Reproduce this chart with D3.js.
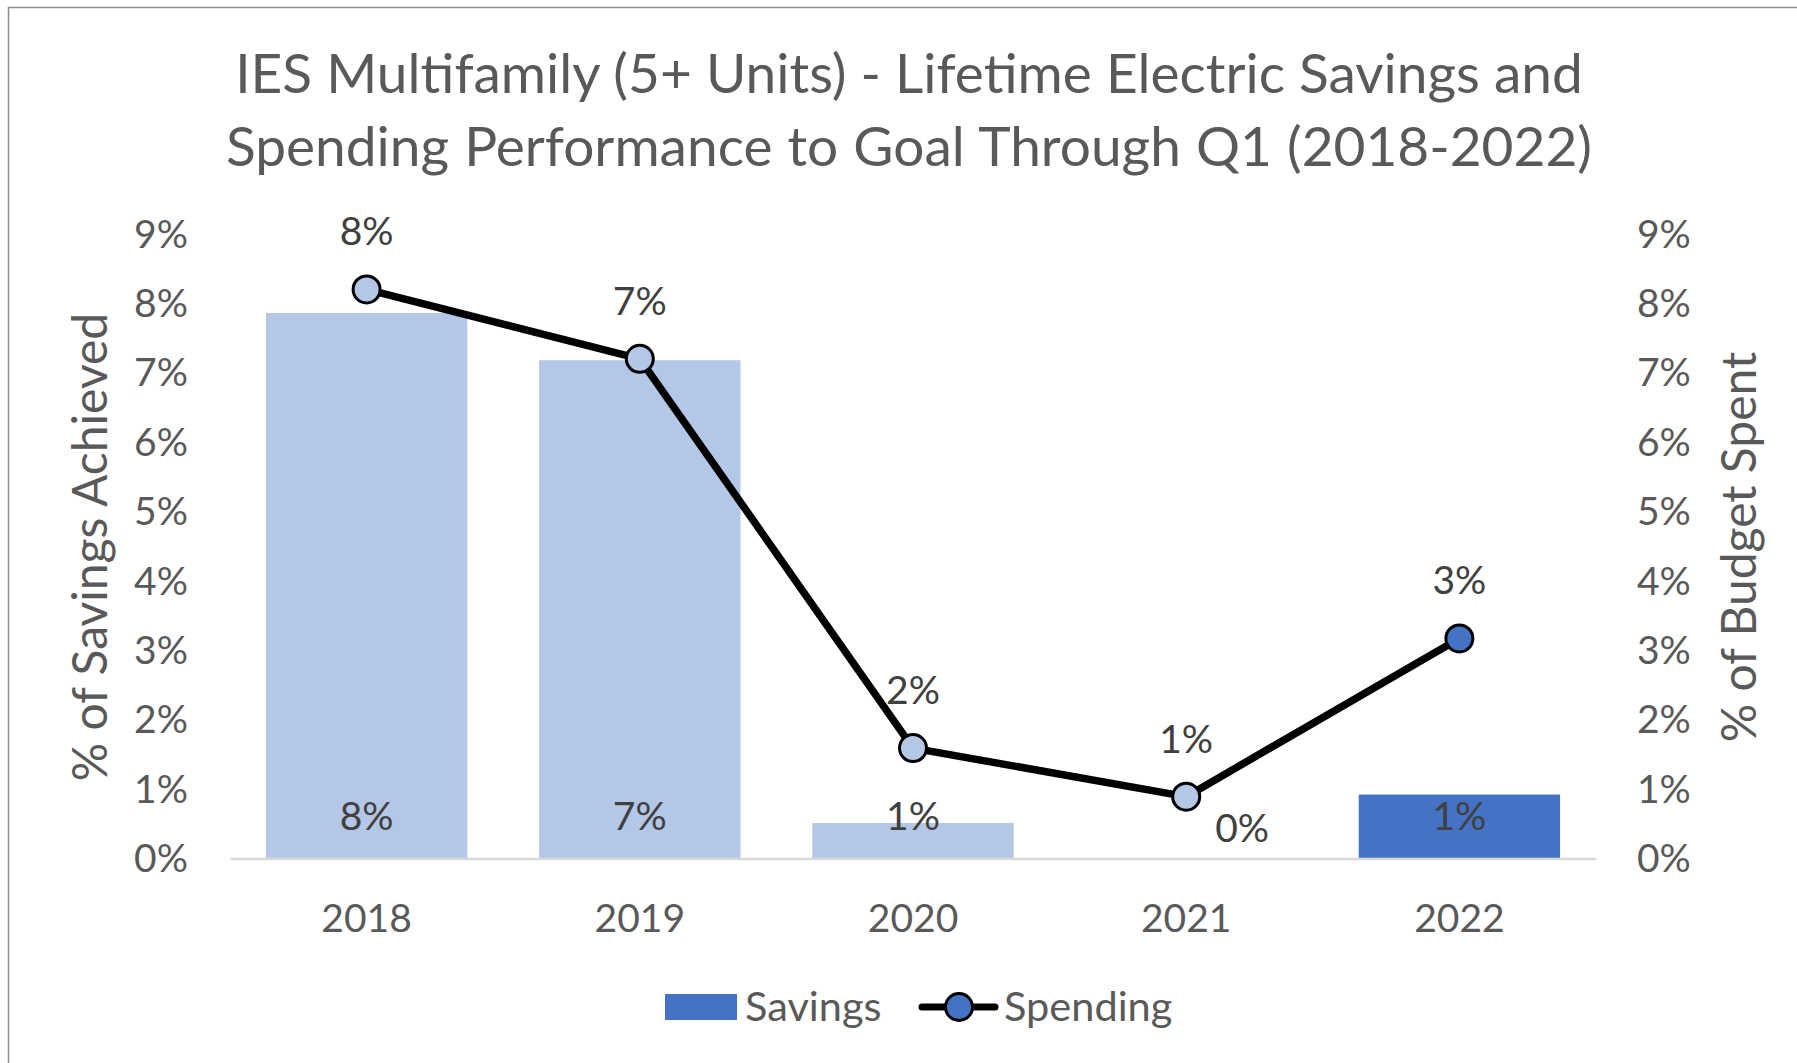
<!DOCTYPE html>
<html>
<head>
<meta charset="utf-8">
<script src="https://cdn.jsdelivr.net/npm/d3@7"></script>
<style>
  body { margin: 0; background: #fff; }
  text { font-family: Lato, "Open Sans", sans-serif; }
</style>
</head>
<body>
<div id="chart"></div>
<script>
// values
const years = ['2018', '2019', '2020', '2021', '2022'];
const savings = [0.0786, 0.0718, 0.0051, 0, 0.0092];
const spending = [0.0820, 0.0720, 0.0159, 0.0089, 0.0317];
const yTicks = [0, 0.01, 0.02, 0.03, 0.04, 0.05, 0.06, 0.07, 0.08, 0.09];
const titleLines = ['IES Multifamily (5+ Units) - Lifetime Electric Savings and',
                    'Spending Performance to Goal Through Q1 (2018-2022)'];

const lightBlue = '#B4C7E7', darkBlue = '#4472C4';
const pointColor = (d, i) => i === years.length - 1 ? darkBlue : lightBlue;

const width = 1797, height = 1063;
const plot = { left: 230, right: 1596, top: 233.9, bottom: 858.4 };

const svg = d3.select('#chart')
              .append('svg')
              .attr('width', width)
              .attr('height', height);

// chart frame (only top/left edges show in the crop)
svg.append('path')
   .attr('d', `M8.5,${height}V7.5H${width}`)
   .attr('fill', 'none')
   .attr('stroke', '#8f8f8f')
   .attr('stroke-width', 1.5);

const x = d3.scaleBand()
            .domain(years)
            .range([plot.left, plot.right])
            .paddingInner(0.263)
            .paddingOuter(0.1315);

const y = d3.scaleLinear().domain([0, 0.09]).range([plot.bottom, plot.top]);
const y2 = d3.scaleLinear().domain([0, 0.09]).range([plot.bottom, plot.top]);
const pct = d3.format('.0%');

// title
svg.append('text')
   .attr('x', 909)
   .attr('y', 93)
   .attr('text-anchor', 'middle')
   .attr('fill', '#595959')
   .style('font-size', '55px')
   .selectAll('tspan')
   .data(titleLines)
   .enter()
   .append('tspan')
   .attr('x', 909)
   .attr('dy', (d, i) => i === 0 ? 0 : 73)
   .attr('word-spacing', (d, i) => i === 0 ? 0 : 1)
   .text(d => d);

// left axis
const yAxis = svg.append('g')
   .attr('transform', 'translate(188,0)')
   .call(d3.axisLeft(y).tickValues(yTicks).tickFormat(pct).tickSize(0).tickPadding(0));
yAxis.select('.domain').remove();
yAxis.selectAll('text')
     .attr('fill', '#595959')
     .style('font-size', '39px')
     .attr('dy', '0.34em');

// right axis
const yAxis2 = svg.append('g')
   .attr('transform', 'translate(1637,0)')
   .call(d3.axisRight(y2).tickValues(yTicks).tickFormat(pct).tickSize(0).tickPadding(0));
yAxis2.select('.domain').remove();
yAxis2.selectAll('text')
      .attr('fill', '#595959')
      .style('font-size', '39px')
      .attr('dy', '0.34em');

// axis titles
svg.append('text')
   .attr('transform', 'translate(107,547) rotate(-90)')
   .attr('text-anchor', 'middle')
   .attr('fill', '#595959')
   .style('font-size', '48px')
   .text('% of Savings Achieved');

svg.append('text')
   .attr('transform', 'translate(1756,547) rotate(-90)')
   .attr('text-anchor', 'middle')
   .attr('fill', '#595959')
   .style('font-size', '48px')
   .text('% of Budget Spent');

// bars
svg.selectAll('rect.bar')
   .data(savings)
   .enter()
   .append('rect')
   .attr('class', 'bar')
   .attr('x', (d, i) => x(years[i]))
   .attr('y', d => y(d))
   .attr('width', x.bandwidth())
   .attr('height', d => y(0) - y(d))
   .attr('fill', pointColor);

// bottom axis
const xAxis = svg.append('g')
   .attr('transform', `translate(0,${plot.bottom})`)
   .call(d3.axisBottom(x).tickSize(0).tickSizeOuter(0));
xAxis.select('.domain')
     .attr('stroke', '#D9D9D9')
     .attr('stroke-width', 2.5);
xAxis.selectAll('text')
     .attr('y', 74)
     .attr('dy', 0)
     .attr('fill', '#595959')
     .style('font-size', '39px');

// savings labels (inside base; the zero one sits off to the right)
svg.selectAll('text.savLabel')
   .data(savings)
   .enter()
   .append('text')
   .attr('class', 'savLabel')
   .attr('x', (d, i) => x(years[i]) + x.bandwidth() / 2 + (d === 0 ? 56 : 0))
   .attr('y', d => y(0) - (d === 0 ? 16 : 28))
   .attr('text-anchor', 'middle')
   .attr('fill', '#404040')
   .style('font-size', '39px')
   .text(d => pct(d));

// spending line
const cx = (d, i) => x(years[i]) + x.bandwidth() / 2;
const line = d3.line().x(cx).y(d => y2(d));

svg.append('path')
   .datum(spending)
   .attr('d', line)
   .attr('fill', 'none')
   .attr('stroke', '#000')
   .attr('stroke-width', 7.5)
   .attr('stroke-linejoin', 'round');

svg.selectAll('circle.pt')
   .data(spending)
   .enter()
   .append('circle')
   .attr('class', 'pt')
   .attr('cx', cx)
   .attr('cy', d => y2(d))
   .attr('r', 13.5)
   .attr('fill', pointColor)
   .attr('stroke', '#000')
   .attr('stroke-width', 3);

svg.selectAll('text.spLabel')
   .data(spending)
   .enter()
   .append('text')
   .attr('class', 'spLabel')
   .attr('x', cx)
   .attr('y', d => y2(d) - 44)
   .attr('text-anchor', 'middle')
   .attr('fill', '#404040')
   .style('font-size', '39px')
   .text(d => pct(d));

// legend
const legend = svg.append('g').attr('transform', 'translate(0,1007)');
legend.append('rect')
      .attr('x', 665).attr('y', -13)
      .attr('width', 72).attr('height', 26)
      .attr('fill', darkBlue);
legend.append('text')
      .attr('x', 745).attr('y', 14)
      .attr('fill', '#595959')
      .style('font-size', '41.5px')
      .text('Savings');
legend.append('line')
      .attr('x1', 922).attr('x2', 995)
      .attr('stroke', '#000')
      .attr('stroke-width', 7)
      .attr('stroke-linecap', 'round');
legend.append('circle')
      .attr('cx', 959).attr('r', 13.5)
      .attr('fill', darkBlue)
      .attr('stroke', '#000')
      .attr('stroke-width', 3);
legend.append('text')
      .attr('x', 1004).attr('y', 14)
      .attr('fill', '#595959')
      .style('font-size', '41.5px')
      .text('Spending');
</script>
</body>
</html>
